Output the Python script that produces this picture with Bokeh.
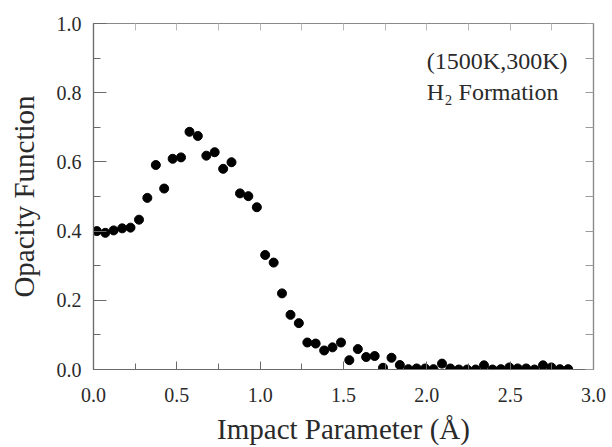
from bokeh.plotting import figure
from bokeh.models import (Range1d, LinearAxis, SingleIntervalTicker, FixedTicker,
                          Label, NumeralTickFormatter, ColumnDataSource)
from bokeh.embed import file_html
from bokeh.resources import INLINE

# ---- data ----
impact_parameter = [
    0.020, 0.071, 0.121, 0.172, 0.222, 0.273, 0.323, 0.374, 0.424, 0.475,
    0.525, 0.576, 0.626, 0.677, 0.727, 0.778, 0.828, 0.879, 0.929, 0.980,
    1.030, 1.081, 1.131, 1.182, 1.232, 1.283, 1.333, 1.384, 1.434, 1.485,
    1.535, 1.586, 1.636, 1.687, 1.737, 1.788, 1.838, 1.889, 1.939, 1.990,
    2.040, 2.091, 2.141, 2.192, 2.242, 2.293, 2.343, 2.394, 2.444, 2.495,
    2.545, 2.596, 2.646, 2.697, 2.747, 2.798, 2.848,
]
opacity = [
    0.400, 0.395, 0.402, 0.408, 0.410, 0.433, 0.496, 0.591, 0.523, 0.609,
    0.613, 0.687, 0.675, 0.618, 0.628, 0.580, 0.599, 0.509, 0.501, 0.469,
    0.331, 0.309, 0.220, 0.158, 0.134, 0.078, 0.075, 0.055, 0.064, 0.078,
    0.027, 0.059, 0.036, 0.039, 0.005, 0.034, 0.013, 0.001, 0.003, 0.003,
    0.001, 0.017, 0.003, 0.000, 0.000, 0.000, 0.012, 0.000, 0.001, 0.006,
    0.003, 0.003, 0.000, 0.012, 0.006, 0.001, 0.001,
]
x_label = "Impact Parameter (Å)"
y_label = "Opacity Function"
note_line1 = "(1500K,300K)"
note_line2 = "H₂ Formation"

# tick positions of the mirrored (unlabelled) top and right axes
top_ticks = [i * 0.25 for i in range(13)]
right_ticks = [i * 0.1 for i in range(11)]

FONT = "Liberation Serif"
AX = "#6a6a6a"
TXT = "#2a2a2a"

p = figure(width=612, height=447, output_backend="svg", toolbar_location=None,
           x_range=Range1d(0, 3.0), y_range=Range1d(0, 1.0),
           min_border_left=93, min_border_right=19, min_border_top=23,
           min_border_bottom=76)
p.background_fill_color = "white"
p.border_fill_color = "white"
p.outline_line_color = "#8a8a8a"
p.outline_line_width = 1.2
p.grid.visible = False

def style_axis(ax, color=AX):
    ax.axis_line_color = color
    ax.axis_line_width = 1.2
    ax.major_tick_line_color = color
    ax.minor_tick_line_color = color
    ax.major_tick_out = 0
    ax.minor_tick_out = 0
    ax.major_label_text_font = FONT
    ax.major_label_text_color = TXT
    ax.axis_label_text_font = FONT
    ax.axis_label_text_color = TXT
    ax.axis_label_text_font_style = "normal"

xa = p.xaxis[0]
xa.ticker = SingleIntervalTicker(interval=0.5, num_minor_ticks=2)
xa.formatter = NumeralTickFormatter(format="0.0")
style_axis(xa)
xa.major_tick_in = 8
xa.minor_tick_in = 6
xa.major_label_text_font_size = "20px"
xa.major_label_standoff = 18
xa.axis_label = x_label
xa.axis_label_text_font_size = "29px"
xa.axis_label_standoff = 8

ya = p.yaxis[0]
ya.ticker = SingleIntervalTicker(interval=0.2, num_minor_ticks=2)
ya.formatter = NumeralTickFormatter(format="0.0")
style_axis(ya)
ya.major_tick_in = 13
ya.minor_tick_in = 7
ya.major_label_text_font_size = "20px"
ya.major_label_standoff = 12
ya.axis_label = y_label
ya.axis_label_text_font_size = "29px"
ya.axis_label_standoff = 14

# mirrored axes on top and right: short inward ticks only, no labels
top = LinearAxis(ticker=FixedTicker(ticks=[], minor_ticks=top_ticks))
style_axis(top, color="#b8b8b8")
top.minor_tick_in = 7
top.axis_line_color = "#8a8a8a"
p.add_layout(top, "above")

right = LinearAxis(ticker=FixedTicker(ticks=[], minor_ticks=right_ticks))
style_axis(right, color="#9a9a9a")
right.minor_tick_in = 8
right.axis_line_color = "#8a8a8a"
p.add_layout(right, "right")

src = ColumnDataSource(data=dict(b=impact_parameter, f=opacity))
p.scatter("b", "f", source=src, size=9, fill_color="black", line_color="black")

p.add_layout(Label(x=2.0, y=0.855, text=note_line1, text_font=FONT,
                   text_font_size="24px", text_color=TXT))
p.add_layout(Label(x=2.0, y=0.765, text=note_line2, text_font=FONT,
                   text_font_size="24px", text_color=TXT))

open("out.html", "w").write(file_html(p, INLINE))
